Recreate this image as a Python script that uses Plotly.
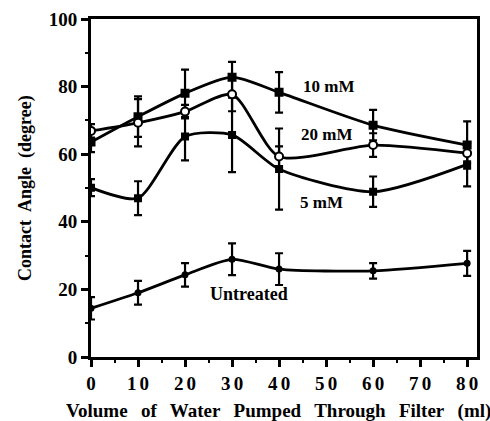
import plotly.graph_objects as go

volume = [0, 10, 20, 30, 40, 60, 80]

angle_10mm = [63.6, 71.1, 78.0, 82.8, 78.3, 68.6, 62.7]
err_10mm = [3.0, 6.0, 7.0, 4.5, 6.0, 4.5, 7.0]

angle_20mm = [66.9, 69.3, 72.6, 77.7, 59.3, 62.7, 60.3]
err_20mm = [2.0, 7.0, 2.0, 5.0, 3.0, 3.5, 3.0]

angle_5mm = [50.1, 47.0, 65.2, 65.7, 55.6, 48.9, 57.0]
err_5mm = [2.5, 5.0, 7.0, 11.0, 12.0, 4.5, 6.5]

angle_untreated = [14.4, 19.0, 24.3, 28.9, 26.0, 25.5, 27.7]
err_untreated = [3.3, 3.5, 3.5, 4.7, 4.7, 2.3, 3.7]

x_tickvals = [0, 10, 20, 30, 40, 50, 60, 70, 80]
x_ticktext = ["0", "1\u20060", "2\u20060", "3\u20060", "4\u20060",
              "5\u20060", "6\u20060", "7\u20060", "8\u20060"]
y_tickvals = [0, 20, 40, 60, 80, 100]

series_labels = ["10 mM", "20 mM", "5 mM", "Untreated"]
label_x = [50.5, 50.0, 49.0, 33.5]
label_y = [80.0, 65.7, 45.7, 18.5]

GAP = "\u00a0\u2009 "
x_title = GAP.join(["Volume", "of", "Water", "Pumped", "Through", "Filter", "(ml)"])
y_title = "Contact\u00a0 Angle\u00a0 (degree)"

FONT = "Liberation Serif"
BLACK = "#000000"

fig = go.Figure()


def add_series(y, err, symbol, size, fill):
    fig.add_trace(go.Scatter(
        x=volume, y=y, mode="lines+markers",
        line=dict(color=BLACK, width=2.8, shape="spline", smoothing=0.7),
        marker=dict(symbol=symbol, size=size, color=fill,
                    line=dict(color=BLACK, width=2)),
        error_y=dict(type="data", array=err, visible=True,
                     color=BLACK, thickness=2.2, width=4),
        showlegend=False,
    ))


add_series(angle_10mm, err_10mm, "square", 7, BLACK)
add_series(angle_5mm, err_5mm, "square", 6, BLACK)
add_series(angle_20mm, err_20mm, "circle", 8, "white")
add_series(angle_untreated, err_untreated, "circle", 5, BLACK)

for text, ax, ay, fs in zip(series_labels, label_x, label_y, [17, 17, 17, 18]):
    fig.add_annotation(x=ax, y=ay, text="<b>%s</b>" % text, showarrow=False,
                       font=dict(family=FONT, size=fs, color=BLACK))

# axis titles placed as paper-anchored annotations
fig.add_annotation(x=0.5, y=0, xref="paper", yref="paper", yshift=-54, xshift=-6,
                   xanchor="center", yanchor="middle", showarrow=False,
                   text="<b>%s</b>" % x_title,
                   font=dict(family=FONT, size=19, color=BLACK))
fig.add_annotation(x=0, y=0.5, xref="paper", yref="paper", xshift=-66,
                   xanchor="center", yanchor="middle", showarrow=False,
                   textangle=-90, text="<b>%s</b>" % y_title,
                   font=dict(family=FONT, size=18, color=BLACK))

fig.update_layout(
    width=490, height=421,
    margin=dict(l=91, r=13, t=19, b=64, autoexpand=False),
    paper_bgcolor="white", plot_bgcolor="white",
    font=dict(family=FONT, color=BLACK),
    xaxis=dict(
        range=[0, 82.1], tickvals=x_tickvals, ticktext=x_ticktext,
        ticks="outside", ticklen=7, tickwidth=2.5, tickcolor=BLACK,
        minor=dict(dtick=5, tick0=0, ticks="outside", ticklen=3,
                   tickwidth=2, tickcolor=BLACK),
        showline=True, linewidth=3, linecolor=BLACK, mirror=True,
        showgrid=False, zeroline=False, automargin=False,
        tickfont=dict(family=FONT, size=19, color=BLACK, weight="bold"),
    ),
    yaxis=dict(
        range=[0, 100], tickvals=y_tickvals,
        ticks="outside", ticklen=7, tickwidth=2.5, tickcolor=BLACK,
        minor=dict(dtick=10, tick0=0, ticks="outside", ticklen=3,
                   tickwidth=2, tickcolor=BLACK),
        showline=True, linewidth=3, linecolor=BLACK, mirror=True,
        showgrid=False, zeroline=False, automargin=False,
        tickfont=dict(family=FONT, size=19, color=BLACK, weight="bold"),
    ),
)

fig.write_html("out.html")
